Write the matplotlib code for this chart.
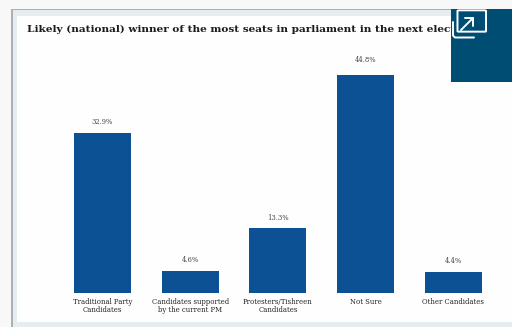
import matplotlib
matplotlib.use("Agg")
import matplotlib.pyplot as plt
from matplotlib.patches import Rectangle, FancyBboxPatch
from matplotlib.lines import Line2D

categories = ["Traditional Party\nCandidates", "Candidates supported\nby the current PM",
              "Protesters/Tishreen\nCandidates", "Not Sure", "Other Candidates"]
values = [32.9, 4.6, 13.3, 44.8, 4.4]
title = "Likely (national) winner of the most seats in parliament in the next election"

W, H = 512, 327
plt.rcParams["font.family"] = ["DejaVu Serif"]
fig = plt.figure(figsize=(W / 100, H / 100), dpi=100, facecolor="#f8f8f8")


def fx(x):
    return x / W


def fy(y):
    return 1 - y / H


def box(x0, y0, x1, y1, color, z):
    fig.add_artist(Rectangle((fx(x0), fy(y1)), (x1 - x0) / W, (y1 - y0) / H,
                             transform=fig.transFigure, facecolor=color,
                             edgecolor="none", zorder=z))


# Card frame and white panel
box(11, 9, 512, 327, "#a9b0b6", 0)
box(13, 10, 512, 327, "#e6edf1", 0.1)
box(17, 16, 512, 322, "#fefefe", 0.2)

# Bars: baseline at y=293 px, 4.866 px per percentage point
ax = fig.add_axes([fx(58.7), fy(293), (497 - 58.7) / W, 243 / H])
ax.patch.set_visible(False)
ax.set_zorder(1)
ax.set_xlim(-0.5, 4.5)
ax.set_ylim(0, 243 / 4.866)
ax.bar(range(len(values)), values, width=0.65, color="#0c5193")
for i, v in enumerate(values):
    lift = 7.6 if v > 40 else 4.8
    ax.annotate(f"{v:.1f}%", (i, v), xytext=(0, lift), textcoords="offset points",
                ha="center", va="bottom", fontsize=4.9, color="#444444")
ax.set_xticks(range(len(values)), categories, fontsize=4.95, color="#222222", linespacing=1.0)
ax.tick_params(axis="x", length=0, pad=3.6)
ax.set_yticks([])
for s in ax.spines.values():
    s.set_visible(False)

fig.text(fx(27), fy(29), title, fontsize=7.56, fontweight="bold", color="#1c1c1c",
         va="center", ha="left", zorder=2)

# Expand button in the corner
box(451, 9, 512, 82, "#004d73", 5)
icon = dict(transform=fig.transFigure, color="white", lw=1.4, solid_capstyle="round",
            solid_joinstyle="round", zorder=6)
fig.add_artist(FancyBboxPatch((fx(458.5), fy(31)), 26.5 / W, 20 / H,
                              boxstyle="round,pad=0.002,rounding_size=0.002",
                              transform=fig.transFigure, facecolor="none",
                              edgecolor="white", lw=1.4, zorder=6))
fig.add_artist(Line2D([fx(453), fx(453), fx(455), fx(474)],
                      [fy(22), fy(35.5), fy(37.5), fy(37.5)], **icon))
fig.add_artist(Line2D([fx(461), fx(473)], [fy(30), fy(18)], **icon))
fig.add_artist(Line2D([fx(465), fx(473), fx(473)], [fy(18), fy(18), fy(26)], **icon))

fig.savefig("out.png", dpi=100, facecolor=fig.get_facecolor())
